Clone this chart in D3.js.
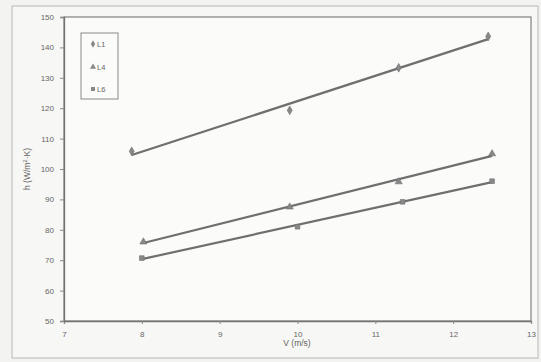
<!DOCTYPE html>
<html><head><meta charset="utf-8">
<script src="https://cdn.jsdelivr.net/npm/d3@7"></script>
<style>body{margin:0;background:#f3f3f1;}svg{display:block;font-family:"Liberation Sans",Arial,sans-serif;}</style>
</head><body><svg id="c" width="541" height="362"></svg>
<script>
const xTicks = [7, 8, 9, 10, 11, 12, 13];
const yTicks = [50, 60, 70, 80, 90, 100, 110, 120, 130, 140, 150];
const seriesNames = ["L1", "L4", "L6"];
const xL1 = [7.87, 9.9, 11.3, 12.45];
const yL1 = [105.8, 119.3, 133.3, 143.6];
const xL4 = [8.02, 9.9, 11.3, 12.5];
const yL4 = [76.0, 87.5, 95.8, 105.0];
const xL6 = [8.0, 10.0, 11.35, 12.5];
const yL6 = [70.7, 81.0, 89.2, 96.0];

const svg = d3.select("#c");
const m = {l: 64, r: 531, t: 17, b: 321};
const x = d3.scaleLinear().domain([7, 13]).range([m.l, m.r]);
const y = d3.scaleLinear().domain([50, 150]).range([m.b, m.t]);
const grey = "#6f6f6f";

// outer frame
svg.append("rect").attr("x", 12).attr("y", 6).attr("width", 526).attr("height", 352)
  .attr("fill", "#f7f7f5").attr("stroke", "#b8b8b8").attr("stroke-width", 1);
// plot area
svg.append("rect").attr("x", m.l).attr("y", m.t).attr("width", m.r - m.l).attr("height", m.b - m.t)
  .attr("fill", "#fbfbfa").attr("stroke", "#8a8a8a").attr("stroke-width", 1.3);

const xa = svg.append("g").attr("transform", `translate(0,${m.b})`)
  .call(d3.axisBottom(x).tickValues(xTicks).tickSize(3).tickPadding(7).tickFormat(d3.format("d")));
const ya = svg.append("g").attr("transform", `translate(${m.l},0)`)
  .call(d3.axisLeft(y).tickValues(yTicks).tickSize(4).tickPadding(6).tickFormat(d3.format("d")));
[xa, ya].forEach(a => {
  a.select(".domain").attr("stroke", "#737373").attr("stroke-width", 1.3);
  a.selectAll(".tick line").attr("stroke", "#8a8a8a");
  a.selectAll(".tick text").attr("fill", "#666").attr("font-size", 8);
});

svg.append("text").attr("x", 297).attr("y", 346).attr("text-anchor", "middle")
  .attr("fill", "#5f5f5f").attr("font-size", 8.5).text("V (m/s)");
svg.append("text").attr("transform", "translate(30,169) rotate(-90)").attr("text-anchor", "middle")
  .attr("fill", "#5f5f5f").attr("font-size", 8.5).html('h (W/m<tspan dy="-3" font-size="6">2</tspan><tspan dy="3">·K)</tspan>');

function fit(xs, ys) {
  const mx = d3.mean(xs), my = d3.mean(ys);
  let sxy = 0, sxx = 0;
  xs.forEach((v, i) => { sxy += (v - mx) * (ys[i] - my); sxx += (v - mx) * (v - mx); });
  const b = sxy / sxx; return v => my + b * (v - mx);
}

const series = [
  {xs: xL1, ys: yL1, sym: d3.symbolDiamond},
  {xs: xL4, ys: yL4, sym: d3.symbolTriangle},
  {xs: xL6, ys: yL6, sym: d3.symbolSquare}
];
series.forEach(s => {
  const f = fit(s.xs, s.ys);
  const x0 = d3.min(s.xs), x1 = d3.max(s.xs);
  svg.append("line").attr("x1", x(x0)).attr("y1", y(f(x0))).attr("x2", x(x1)).attr("y2", y(f(x1)))
    .attr("stroke", grey).attr("stroke-width", 2.2);
  svg.selectAll(null).data(s.xs.map((v, i) => [v, s.ys[i]])).join("path")
    .attr("d", d3.symbol().type(s.sym).size(22))
    .attr("transform", d => `translate(${x(d[0])},${y(d[1])})`)
    .attr("fill", "#888").attr("stroke", "#707070").attr("stroke-width", 0.6);
});

// legend
const lg = svg.append("g");
lg.append("rect").attr("x", 81).attr("y", 33).attr("width", 37).attr("height", 66)
  .attr("fill", "#fbfbfa").attr("stroke", "#8a8a8a").attr("stroke-width", 1);
const syms = [d3.symbolDiamond, d3.symbolTriangle, d3.symbolSquare];
const ly = [44, 67, 89];
seriesNames.forEach((n, i) => {
  lg.append("path").attr("d", d3.symbol().type(syms[i]).size(16))
    .attr("transform", `translate(93,${ly[i]})`).attr("fill", "#888");
  lg.append("text").attr("x", 97).attr("y", ly[i] + 2.5).attr("font-size", 7.5)
    .attr("fill", "#666").text(n);
});
</script></body></html>
